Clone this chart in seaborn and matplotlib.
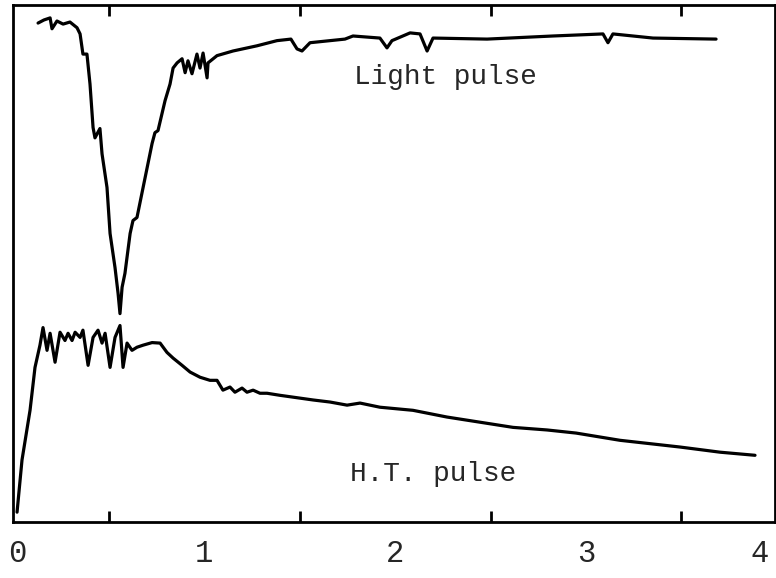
import matplotlib
matplotlib.use("Agg")
import matplotlib.pyplot as plt
import seaborn as sns
import numpy as np

# light pulse trace (time, signal)
light_t = [0.131, 0.162, 0.194, 0.204, 0.230, 0.262, 0.298, 0.335, 0.351, 0.366,
           0.387, 0.403, 0.419, 0.429, 0.455, 0.466, 0.492, 0.508, 0.534, 0.550,
           0.560, 0.571, 0.586, 0.613, 0.628, 0.649, 0.681, 0.728, 0.743, 0.759,
           0.796, 0.822, 0.838, 0.859, 0.885, 0.901, 0.916, 0.937, 0.963, 0.979,
           0.995, 1.016, 1.021, 1.068, 1.152, 1.277, 1.382, 1.455, 1.487, 1.513,
           1.555, 1.738, 1.780, 1.921, 1.958, 1.984, 2.079, 2.131, 2.168, 2.199,
           2.482, 2.827, 3.089, 3.115, 3.141, 3.351, 3.681]
light_v = [96.5, 97.1, 97.5, 95.4, 96.9, 96.3, 96.7, 95.6, 94.4, 90.5,
           90.5, 84.7, 76.3, 74.3, 76.1, 71.2, 64.7, 55.8, 49.2, 44.2,
           40.3, 45.4, 48.1, 55.8, 58.3, 58.9, 64.7, 73.2, 75.3, 75.7,
           81.5, 84.7, 87.8, 88.8, 89.6, 86.9, 89.2, 86.7, 90.5, 87.8,
           90.7, 85.9, 88.8, 90.2, 91.1, 92.1, 93.1, 93.4, 91.5, 91.1,
           92.7, 93.4, 94.0, 93.6, 91.7, 93.1, 94.6, 94.4, 91.1, 93.6,
           93.4, 94.0, 94.4, 92.7, 94.4, 93.6, 93.4]

# H.T. pulse trace
ht_t = [0.021, 0.047, 0.089, 0.115, 0.141, 0.157, 0.178, 0.194, 0.220, 0.246,
        0.272, 0.288, 0.309, 0.325, 0.351, 0.366, 0.393, 0.419, 0.445, 0.466,
        0.482, 0.508, 0.534, 0.560, 0.576, 0.597, 0.623, 0.649, 0.681, 0.728,
        0.770, 0.806, 0.838, 0.885, 0.927, 0.979, 1.031, 1.068, 1.099, 1.136,
        1.162, 1.199, 1.225, 1.257, 1.293, 1.330, 1.398, 1.571, 1.660, 1.749,
        1.817, 1.921, 2.094, 2.272, 2.445, 2.618, 2.796, 2.948, 3.178, 3.492,
        3.702, 3.885]
ht_v = [1.9, 12.0, 21.6, 29.9, 34.2, 37.6, 33.2, 36.5, 30.9, 36.7,
        35.1, 36.5, 35.1, 36.7, 35.7, 37.1, 30.3, 35.7, 37.1, 34.6,
        36.5, 29.9, 35.7, 38.0, 29.9, 34.6, 33.2, 33.8, 34.2, 34.7,
        34.6, 32.8, 31.7, 30.3, 29.0, 28.0, 27.4, 27.4, 25.5, 26.1,
        25.1, 25.9, 25.1, 25.5, 24.9, 24.9, 24.5, 23.6, 23.2, 22.6,
        23.0, 22.2, 21.6, 20.3, 19.3, 18.3, 17.8, 17.2, 15.8, 14.5,
        13.5, 12.9]

tick_pos = [0.02, 1, 2, 3, 3.91]
tick_labels = ['0', '1', '2', '3', '4']

sns.set_style("white")
plt.rcParams['font.family'] = ['Liberation Mono', 'DejaVu Sans Mono']

fig = plt.figure(figsize=(7.76, 5.78), dpi=100)
ax = fig.add_axes([0.0168, 0.0969, 0.982, 0.8945])

sns.lineplot(x=light_t, y=light_v, ax=ax, color='black', lw=2.3,
             estimator=None, sort=False)
sns.lineplot(x=ht_t, y=ht_v, ax=ax, color='black', lw=2.3,
             estimator=None, sort=False)

ax.set_xlim(0, 3.99)
ax.set_ylim(0, 100)
ax.set_yticks([])
ax.set_xticks(tick_pos, tick_labels)
ax.tick_params(axis='x', which='major', length=0, pad=12, labelsize=22)
ax.set_xticks(np.arange(0.5, 4, 0.5), minor=True)
ax.tick_params(axis='x', which='minor', direction='in', length=8, width=2,
               top=True, bottom=True, color='black')
for s in ax.spines.values():
    s.set_linewidth(2)
    s.set_color('black')

ax.text(2.262, 86.1, 'Light pulse', ha='center', va='center', fontsize=20)
ax.text(2.199, 9.3, 'H.T. pulse', ha='center', va='center', fontsize=20)

fig.savefig('out.png', dpi=100)
